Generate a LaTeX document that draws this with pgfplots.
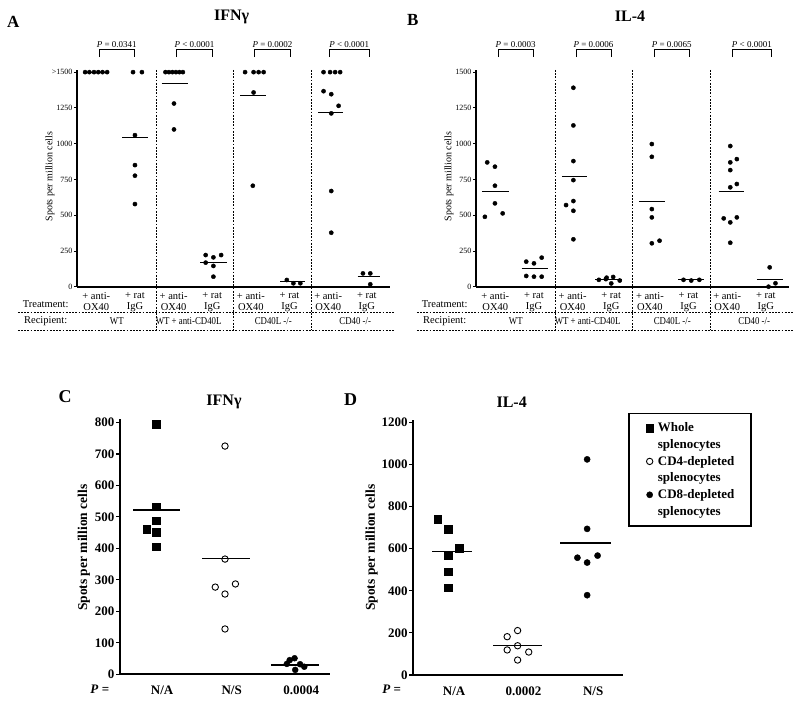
\documentclass[border=0pt]{standalone}
\usepackage{graphicx}
\usepackage{pgfplots}
\pgfplotsset{compat=1.18}
\usepackage{fontspec}
\setmainfont{Liberation Serif}
\tikzset{
 brk/.style={black, line width=0.7pt},
 sepd/.style={black, line width=0.6pt, dash pattern=on 1.8pt off 1.4pt},
}
\pgfplotsset{
 dotA/.style={only marks, mark=*, mark size=2.1pt, black, line width=0.4pt},
 meanA/.style={black, line width=0.9pt, no marks, forget plot},
 meanC/.style={black, line width=1.4pt, no marks, forget plot},
 panelAB/.style={
  anchor=south west, scale only axis, width=313pt, height=217pt,
  xmin=0.5, xmax=8.6, ymin=0, ymax=1515, clip=false,
  axis x line=bottom, axis y line=left,
  axis line style={-, line width=1.5pt},
  xtick={1,...,8},
  xticklabels={{+ anti-\\OX40},{+ rat\\IgG},{+ anti-\\OX40},{+ rat\\IgG},{+ anti-\\OX40},{+ rat\\IgG},{+ anti-\\OX40},{+ rat\\IgG}},
  xtick style={draw=none},
  xticklabel style={align=center, font=\fontsize{10.5}{11}\selectfont, inner sep=2pt},
  ytick={0,250,500,750,1000,1250,1500},
  ytick style={black, line width=1pt},
  tick align=outside, major tick length=3pt,
  yticklabel style={font=\fontsize{8}{9}\selectfont, inner sep=1.5pt},
 },
 panelCD/.style={
  anchor=south west, scale only axis, width=210pt, height=255pt,
  clip=false,
  axis x line=bottom, axis y line=left,
  axis line style={-, line width=2pt},
  xtick={1,2,3},
  xtick style={draw=none},
  xticklabel style={font=\fontsize{13}{14}\selectfont\bfseries, xshift=6pt, yshift=-4pt},
  ytick style={black, line width=1.2pt},
  tick align=outside, major tick length=4pt,
  yticklabel style={font=\fontsize{13}{14}\selectfont\bfseries, inner sep=1.5pt},
 },
}
\newcommand{\rlab}[1]{\scalebox{0.84}[1]{#1}}
\newcommand{\ABlabels}{%
  \draw[sepd] (axis cs:2.55,1515) -- (axis cs:2.55,-300);
  \draw[sepd] (axis cs:4.54,1515) -- (axis cs:4.54,-300);
  \draw[sepd] (axis cs:6.56,1515) -- (axis cs:6.56,-300);
  \draw[sepd] (axis cs:-1.03,-179) -- (axis cs:8.72,-179);
  \draw[sepd] (axis cs:-1.03,-300) -- (axis cs:8.72,-300);
  \node[font=\fontsize{10.5}{11}\selectfont] at (axis cs:-0.31,-121) {Treatment:};
  \node[font=\fontsize{10.5}{11}\selectfont] at (axis cs:-0.31,-240) {Recipient:};
  \node[font=\fontsize{10.5}{11}\selectfont] at (axis cs:1.53,-240) {\rlab{WT}};
  \node[font=\fontsize{10.5}{11}\selectfont] at (axis cs:3.39,-240) {\rlab{WT + anti-CD40L}};
  \node[font=\fontsize{10.5}{11}\selectfont] at (axis cs:5.58,-240) {\rlab{CD40L -/-}};
  \node[font=\fontsize{10.5}{11}\selectfont] at (axis cs:7.7,-240) {\rlab{CD40 -/-}};
  \node[rotate=90, font=\fontsize{10}{11}\selectfont] at (axis cs:-0.2,771) {Spots per million cells};
}
\newcommand{\bracket}[4]{%
  \draw[brk] (axis cs:#1,1605) -- (axis cs:#1,1660) -- (axis cs:#2,1660) -- (axis cs:#2,1605);
  \node[anchor=south, inner sep=1pt, font=\fontsize{9}{10}\selectfont] at (axis cs:#3,1660) {#4};
}
\begin{document}
\begin{tikzpicture}
\path[use as bounding box] (0pt,0pt) rectangle (800pt,704pt);

% ---------------- Panel A ----------------
\begin{axis}[panelAB, at={(77pt,417pt)},
  yticklabels={0,250,500,750,1000,1250,{>1500}}]
\addplot[dotA] coordinates {(0.71,1500)(0.82,1500)(0.94,1500)(1.05,1500)(1.16,1500)(1.28,1500)};
\addplot[dotA] coordinates {(1.95,1500)(2.18,1500)(2.0,1060)(2.0,851)(2.0,777)(2.0,579)};
\addplot[dotA] coordinates {(2.79,1500)(2.88,1500)(2.97,1500)(3.06,1500)(3.15,1500)(3.24,1500)(3.01,1281)(3.01,1100)};
\addplot[dotA] coordinates {(3.83,223)(4.03,207)(4.23,223)(3.83,170)(4.03,147)(4.03,72)};
\addplot[dotA] coordinates {(4.85,1500)(5.07,1500)(5.20,1500)(5.33,1500)(5.07,1358)(5.05,707)};
\addplot[dotA] coordinates {(5.93,49)(6.10,26)(6.28,26)};
\addplot[dotA] coordinates {(6.88,1500)(7.05,1500)(7.18,1500)(7.31,1500)(6.88,1367)(7.08,1346)(7.27,1265)(7.08,1212)(7.08,670)(7.08,379)};
\addplot[dotA] coordinates {(7.90,95)(8.09,95)(8.09,19)};
\addplot[meanA] coordinates {(0.66,1500)(1.31,1500)};
\addplot[meanA] coordinates {(1.67,1045)(2.34,1045)};
\addplot[meanA] coordinates {(2.69,1420)(3.36,1420)};
\addplot[meanA] coordinates {(3.69,174)(4.38,174)};
\addplot[meanA] coordinates {(4.72,1340)(5.39,1340)};
\addplot[meanA] coordinates {(5.76,42)(6.41,42)};
\addplot[meanA] coordinates {(6.74,1219)(7.39,1219)};
\addplot[meanA] coordinates {(7.76,72)(8.35,72)};
\ABlabels
\bracket{1.08}{1.98}{1.53}{\textit{P} = 0.0341}
\bracket{3.08}{4.00}{3.54}{\textit{P} < 0.0001}
\bracket{5.09}{6.03}{5.56}{\textit{P} = 0.0002}
\bracket{7.03}{8.06}{7.545}{\textit{P} < 0.0001}
\end{axis}

% ---------------- Panel B ----------------
\begin{axis}[panelAB, at={(476pt,417pt)},
  yticklabels={0,250,500,750,1000,1250,1500}]
\addplot[dotA] coordinates {(0.79,870)(0.99,840)(0.99,707)(0.99,584)(1.19,514)(0.73,490)};
\addplot[dotA] coordinates {(1.80,177)(2.0,165)(2.20,205)(1.80,77)(2.0,72)(2.20,72)};
\addplot[dotA] coordinates {(3.02,1391)(3.02,1128)(3.02,879)(3.02,746)(3.02,600)(2.83,572)(3.02,532)(3.02,333)};
\addplot[dotA] coordinates {(3.68,50)(3.88,65)(4.05,70)(4.22,45)(4.00,25)(3.86,55)};
\addplot[dotA] coordinates {(5.05,998)(5.05,909)(5.05,544)(5.05,486)(5.05,305)(5.25,323)};
\addplot[dotA] coordinates {(5.87,50)(6.07,45)(6.28,50)};
\addplot[dotA] coordinates {(7.08,984)(7.25,893)(7.08,870)(7.08,816)(7.25,719)(7.08,696)(6.91,479)(7.08,451)(7.25,486)(7.08,309)};
\addplot[dotA] coordinates {(8.10,137)(8.25,26)(8.07,2)};
\addplot[meanA] coordinates {(0.65,670)(1.36,670)};
\addplot[meanA] coordinates {(1.68,126)(2.36,126)};
\addplot[meanA] coordinates {(2.72,770)(3.37,770)};
\addplot[meanA] coordinates {(3.59,56)(4.27,56)};
\addplot[meanA] coordinates {(4.73,595)(5.40,595)};
\addplot[meanA] coordinates {(5.73,50)(6.41,50)};
\addplot[meanA] coordinates {(6.78,670)(7.43,670)};
\addplot[meanA] coordinates {(7.77,52)(8.45,52)};
\ABlabels
\bracket{1.07}{1.98}{1.525}{\textit{P} = 0.0003}
\bracket{3.09}{3.99}{3.54}{\textit{P} = 0.0006}
\bracket{5.11}{6.02}{5.565}{\textit{P} = 0.0065}
\bracket{7.13}{8.15}{7.64}{\textit{P} < 0.0001}
\end{axis}

% ---------------- Panel C ----------------
\begin{axis}[panelCD, at={(120pt,29.7pt)},
  xmin=0.48, xmax=3.5, ymin=0, ymax=810,
  xticklabels={N/A,N/S,0.0004},
  ytick={0,100,200,300,400,500,600,700,800},
  yticklabels={0,100,200,300,400,500,600,700,800}]
\addplot[only marks, mark=square*, mark size=3.7pt, black, line width=0.4pt] coordinates {(1.0,795)(1.0,533)(1.0,487)(0.86,461)(1.0,451)(1.0,406)};
\addplot[only marks, mark=o, mark size=3.2pt, black, line width=0.9pt] coordinates {(1.99,725)(1.99,366)(2.14,287)(1.85,277)(1.99,255)(1.99,144)};
\addplot[only marks, mark=*, mark size=3.0pt, black, line width=0.4pt] coordinates {(2.88,33)(2.92,45)(2.99,51)(3.07,32)(3.13,24)(3.0,14)};
\addplot[meanC] coordinates {(0.67,522)(1.35,522)};
\addplot[meanC] coordinates {(1.66,368)(2.35,368)};
\addplot[meanC] coordinates {(2.65,30)(3.34,30)};
\node[font=\fontsize{13}{14}\selectfont\bfseries] at (axis cs:0.19,-47) {\textit{P} =};
\node[rotate=90, font=\fontsize{13.5}{14}\selectfont\bfseries] at (axis cs:-0.04,402) {Spots per million cells};
\end{axis}

% ---------------- Panel D ----------------
\begin{axis}[panelCD, at={(413.3pt,29pt)},
  xmin=0.5, xmax=3.52, ymin=0, ymax=1211,
  xticklabels={N/A,0.0002,N/S},
  ytick={0,200,400,600,800,1000,1200},
  yticklabels={0,200,400,600,800,1000,1200},
  legend cell align=left,
  legend style={at={(1.024,1.028)}, anchor=north west, draw=black, line width=1.6pt,
    inner xsep=12pt, inner ysep=6pt, row sep=0pt,
    font=\fontsize{13}{15}\selectfont\bfseries,
    nodes={inner ysep=1.6pt, inner xsep=4.5pt, text height=10.5pt, text depth=3pt}}]
\addplot[only marks, mark=square*, mark size=3.7pt, black, line width=0.4pt] coordinates {(0.85,740)(1.0,692)(1.16,602)(1.0,567)(1.0,491)(1.0,415)};
\addlegendentry{Whole}
\addlegendimage{empty legend}
\addlegendentry{splenocytes}
\addplot[only marks, mark=o, mark size=3.2pt, black, line width=0.9pt] coordinates {(2.0,211)(1.85,182)(2.0,139)(1.85,119)(2.16,109)(2.0,71)};
\addlegendentry{CD4-depleted}
\addlegendimage{empty legend}
\addlegendentry{splenocytes}
\addplot[only marks, mark=*, mark size=3.1pt, black, line width=0.4pt] coordinates {(3.0,1024)(3.0,694)(2.86,557)(3.0,534)(3.15,567)(3.0,379)};
\addlegendentry{CD8-depleted}
\addlegendimage{empty legend}
\addlegendentry{splenocytes}
\addplot[meanC] coordinates {(0.77,586)(1.34,586)};
\addplot[meanC] coordinates {(1.65,139)(2.35,139)};
\addplot[meanC] coordinates {(2.61,626)(3.34,626)};
\node[font=\fontsize{13}{14}\selectfont\bfseries] at (axis cs:0.19,-66) {\textit{P} =};
\node[rotate=90, font=\fontsize{13.5}{14}\selectfont\bfseries] at (axis cs:-0.10,605) {Spots per million cells};
\end{axis}

% ---------------- Titles ----------------
\node[font=\fontsize{17}{18}\selectfont\bfseries] at (13.3pt,682.3pt) {A};
\node[font=\fontsize{16}{18}\selectfont\bfseries] at (231.7pt,687.3pt) {IFNγ};
\node[font=\fontsize{17}{18}\selectfont\bfseries] at (412.7pt,684pt) {B};
\node[font=\fontsize{16}{18}\selectfont\bfseries] at (630pt,687.3pt) {IL-4};
\node[font=\fontsize{18}{19}\selectfont\bfseries] at (65pt,307.3pt) {C};
\node[font=\fontsize{16}{18}\selectfont\bfseries] at (224pt,302.3pt) {IFNγ};
\node[font=\fontsize{18}{19}\selectfont\bfseries] at (350.7pt,304.7pt) {D};
\node[font=\fontsize{16}{18}\selectfont\bfseries] at (511.7pt,301.3pt) {IL-4};
\end{tikzpicture}
\end{document}
